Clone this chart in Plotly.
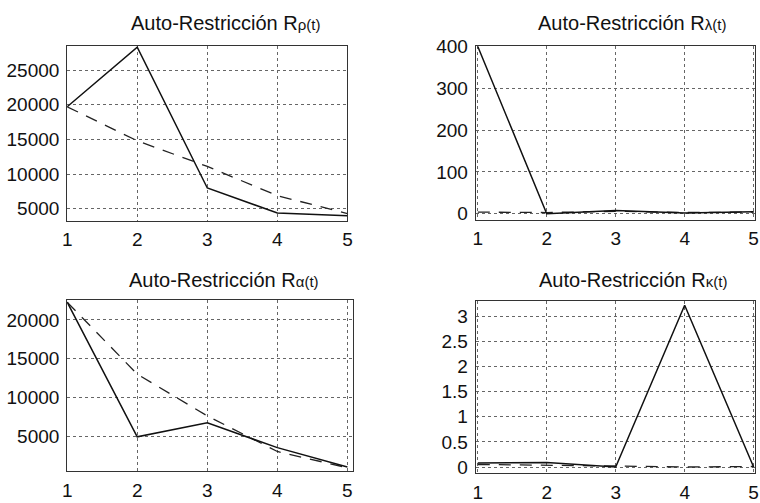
import plotly.graph_objects as go

W, H = 760, 503

t = [1, 2, 3, 4, 5]

rho_solid = [19700, 28300, 8000, 4400, 4000]
rho_dash = [19700, 14800, 11100, 6900, 4300]

lam_solid = [400, 0, 8, 2, 5]
lam_dash = [4, 3, 6, 3, 4]

alpha_solid = [22300, 4900, 6700, 3500, 1000]
alpha_dash = [22300, 13000, 7600, 3000, 900]

kappa_solid = [0.08, 0.09, 0.0, 3.22, 0.0]
kappa_dash = [0.05, 0.04, 0.02, 0.0, 0.01]

title_main = "Auto-Restricción R"
subs = ["ρ(t)", "λ(t)", "α(t)", "κ(t)"]

xtick_vals = [1, 2, 3, 4, 5]
xtick_text = ["1", "2", "3", "4", "5"]
ytick_rho = [5000, 10000, 15000, 20000, 25000]
ytick_rho_text = ["5000", "10000", "15000", "20000", "25000"]
ytick_lam = [0, 100, 200, 300, 400]
ytick_lam_text = ["0", "100", "200", "300", "400"]
ytick_alpha = [5000, 10000, 15000, 20000]
ytick_alpha_text = ["5000", "10000", "15000", "20000"]
ytick_kappa = [0, 0.5, 1, 1.5, 2, 2.5, 3]
ytick_kappa_text = ["0", "0.5", "1", "1.5", "2", "2.5", "3"]

FONT = "Liberation Sans, Arial, Helvetica, sans-serif"

fig = go.Figure()

panels = [
    ("x", "y", rho_solid, rho_dash, (63, 347), (38, 219), [1, 5], [3300, 28500], ytick_rho, ytick_rho_text, (223, 14)),
    ("x2", "y2", lam_solid, lam_dash, (477, 760), (38, 218), [0.97, 5.02], [-14, 402], ytick_lam, ytick_lam_text, (635, 14)),
    ("x3", "y3", alpha_solid, alpha_dash, (63, 353), (301, 478), [1, 5.085], [500, 22600], ytick_alpha, ytick_alpha_text, (222, 280)),
    ("x4", "y4", kappa_solid, kappa_dash, (477, 760), (302, 480), [0.97, 5.02], [-0.115, 3.31], ytick_kappa, ytick_kappa_text, (636, 280)),
]

annotations = []
for i, (xa, ya, sol, dsh, xd, yd, xr, yr, ytv, ytt, tc) in enumerate(panels):
    fig.add_trace(go.Scatter(x=t, y=dsh, mode="lines", xaxis=xa, yaxis=ya,
                             line=dict(color="#222", width=1.3, dash="12px,9px"),
                             showlegend=False, hoverinfo="skip"))
    fig.add_trace(go.Scatter(x=t, y=sol, mode="lines", xaxis=xa, yaxis=ya,
                             line=dict(color="#111", width=1.5),
                             showlegend=False, hoverinfo="skip"))
    xkey = "xaxis" if xa == "x" else "xaxis" + xa[1:]
    ykey = "yaxis" if ya == "y" else "yaxis" + ya[1:]
    axis_common = dict(showline=True, linecolor="#333", linewidth=1, mirror=True,
                       showgrid=True, gridcolor="#666", gridwidth=1, griddash="dot",
                       zeroline=False, ticks="",
                       tickfont=dict(family=FONT, size=19, color="#111"))
    fig.update_layout(**{
        xkey: dict(domain=[xd[0] / W, xd[1] / W], range=xr, tickvals=xtick_vals,
                   ticktext=xtick_text, anchor=ya, ticklabelstandoff=2, **axis_common),
        ykey: dict(domain=[1 - yd[1] / H, 1 - yd[0] / H], range=yr, tickvals=ytv,
                   ticktext=ytt, anchor=xa, ticklabelstandoff=3, **axis_common),
    })
    annotations.append(dict(
        x=tc[0] / W, y=1 - tc[1] / H, xref="paper", yref="paper",
        xanchor="center", yanchor="middle", showarrow=False,
        text=title_main + "<span style='font-size:15px'>" + subs[i] + "</span>",
        font=dict(family=FONT, size=20, color="#111"),
    ))

fig.update_layout(
    width=W, height=H,
    margin=dict(l=0, r=0, t=0, b=0),
    paper_bgcolor="white", plot_bgcolor="white",
    annotations=annotations,
)

fig.write_html(
    "out.html",
    config={"displayModeBar": False},
    post_script="document.body.style.margin='0';document.body.style.overflow='hidden';",
)
